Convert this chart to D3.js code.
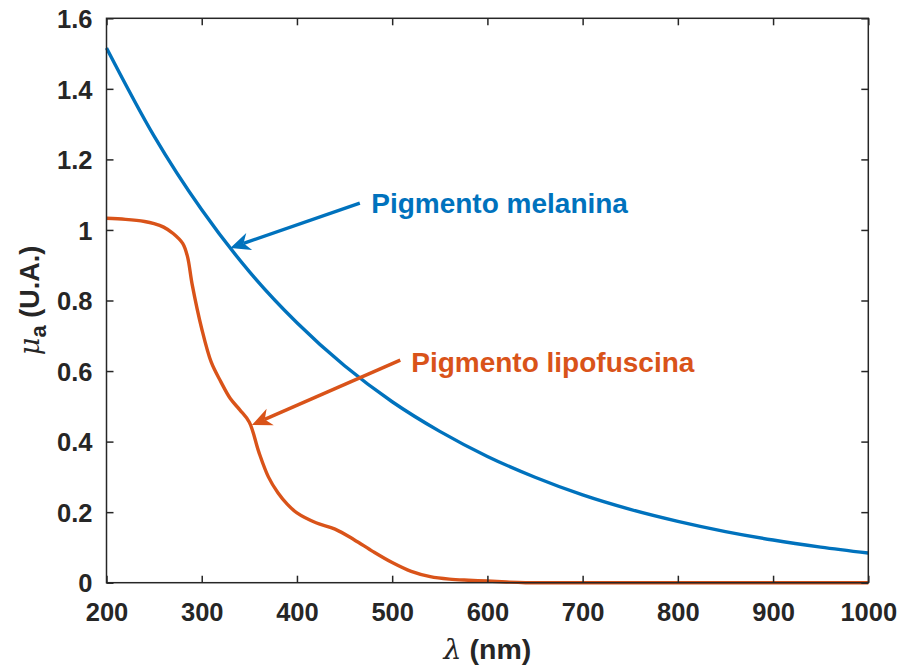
<!DOCTYPE html>
<html>
<head>
<meta charset="utf-8">
<script src="https://cdn.jsdelivr.net/npm/d3@7"></script>
<style>
  html, body { margin: 0; padding: 0; background: #fff; }
  svg { display: block; }
  text { font-family: "Liberation Sans", Arial, sans-serif; }
</style>
</head>
<body>
<svg id="chart" width="902" height="669"></svg>
<script>
// ---- data ----
const wavelengthsMel = [200, 250, 300, 350, 400, 450, 500, 550, 600, 650, 700, 750, 800, 850, 900, 950, 1000];
const melanina = [1.516, 1.266, 1.057, 0.882, 0.737, 0.615, 0.513, 0.429, 0.358, 0.299, 0.249, 0.208, 0.174, 0.145, 0.121, 0.101, 0.084];

const wavelengthsLip = [200, 220, 240, 250, 260, 270, 280, 285, 290, 300, 310, 320, 330, 340, 350, 360, 370, 380, 390, 400, 420, 440, 460, 480, 500, 520, 540, 560, 580, 600, 620, 640, 700, 800, 900, 1000];
const lipofuscina = [1.033, 1.03, 1.024, 1.018, 1.008, 0.99, 0.962, 0.925, 0.845, 0.72, 0.625, 0.57, 0.522, 0.49, 0.455, 0.37, 0.30, 0.255, 0.222, 0.198, 0.17, 0.152, 0.122, 0.088, 0.057, 0.032, 0.017, 0.01, 0.007, 0.005, 0.002, 0, 0, 0, 0, 0];

const xTicks = [200, 300, 400, 500, 600, 700, 800, 900, 1000];
const yTicks = [0, 0.2, 0.4, 0.6, 0.8, 1, 1.2, 1.4, 1.6];
const yTickLabels = ["0", "0.2", "0.4", "0.6", "0.8", "1", "1.2", "1.4", "1.6"];

const seriesNames = ["Pigmento melanina", "Pigmento lipofuscina"];
const seriesColors = ["#0072BD", "#D95319"];
// annotation arrows in data units: [start λ, start μa, tip λ, tip μa, text λ, text μa]
const annMel = [466, 1.076, 330, 0.949, 478, 1.048];
const annLip = [508.5, 0.631, 352.7, 0.447, 520, 0.598];

// ---- layout ----
const svg = d3.select("#chart");
const pLeft = 106.5, pRight = 868.3, pTop = 18.3, pBottom = 582.7;
const x = d3.scaleLinear().domain([200, 1000]).range([pLeft, pRight]);
const y = d3.scaleLinear().domain([0, 1.6]).range([pBottom, pTop]);
const axisColor = "#262626";

// curves
const lineMel = d3.line().x(d => x(d[0])).y(d => y(d[1])).curve(d3.curveMonotoneX);
const lineLip = d3.line().x(d => x(d[0])).y(d => y(d[1])).curve(d3.curveCatmullRom.alpha(0.5));
const melData = wavelengthsMel.map((w, i) => [w, melanina[i]]);
const lipData = wavelengthsLip.map((w, i) => [w, lipofuscina[i]]);

svg.append("path").datum(lipData).attr("d", lineLip)
  .attr("fill", "none").attr("stroke", seriesColors[1]).attr("stroke-width", 3.4).attr("stroke-linejoin", "round");
svg.append("path").datum(melData).attr("d", lineMel)
  .attr("fill", "none").attr("stroke", seriesColors[0]).attr("stroke-width", 3.4).attr("stroke-linejoin", "round");

// axes with inward ticks, box
const tickLen = 7;
svg.append("rect").attr("x", pLeft).attr("y", pTop).attr("width", pRight - pLeft).attr("height", pBottom - pTop)
  .attr("fill", "none").attr("stroke", axisColor).attr("stroke-width", 1.5);

const xAxisB = d3.axisBottom(x).tickValues(xTicks).tickSize(-tickLen).tickFormat(d3.format("d"));
const xAxisT = d3.axisTop(x).tickValues(xTicks).tickSize(-tickLen).tickFormat("");
const yAxisL = d3.axisLeft(y).tickValues(yTicks).tickSize(-tickLen).tickFormat((d, i) => yTickLabels[i]);
const yAxisR = d3.axisRight(y).tickValues(yTicks).tickSize(-tickLen).tickFormat("");

function styleAxis(sel) {
  sel.select(".domain").remove();
  sel.selectAll(".tick line").attr("stroke", axisColor).attr("stroke-width", 1.5);
  sel.selectAll(".tick text").attr("fill", axisColor)
    .style("font-family", "'Liberation Sans', Arial, sans-serif")
    .style("font-weight", "bold").style("font-size", "25.5px");
}
svg.append("g").attr("transform", `translate(0,${pBottom})`).call(xAxisB).call(styleAxis)
  .selectAll(".tick text").attr("y", 20).attr("dy", "0.71em");
svg.append("g").attr("transform", `translate(0,${pTop})`).call(xAxisT).call(styleAxis);
svg.append("g").attr("transform", `translate(${pLeft},0)`).call(yAxisL).call(styleAxis)
  .selectAll(".tick text").attr("x", -14).attr("dy", "0.36em");
svg.append("g").attr("transform", `translate(${pRight},0)`).call(yAxisR).call(styleAxis);

// axis titles
const xt = svg.append("text").attr("x", (pLeft + pRight) / 2).attr("y", 659)
  .attr("text-anchor", "middle").attr("fill", axisColor)
  .style("font-size", "28.5px").style("font-weight", "bold");
xt.append("tspan").style("font-family", "'DejaVu Serif', serif").style("font-style", "italic").style("font-weight", "normal").text("λ");
xt.append("tspan").text(" (nm)");

const yt = svg.append("text").attr("transform", `translate(39,${(pTop + pBottom) / 2}) rotate(-90)`)
  .attr("text-anchor", "middle").attr("fill", axisColor)
  .style("font-size", "27px").style("font-weight", "bold");
yt.append("tspan").style("font-family", "'DejaVu Serif', serif").style("font-style", "italic").style("font-weight", "normal").text("μ");
yt.append("tspan").attr("dy", 7).style("font-size", "22px").text("a");
yt.append("tspan").attr("dy", -7).text(" (U.A.)");

// annotations
function arrow(a, color, label) {
  const sx = x(a[0]), sy = y(a[1]), tx = x(a[2]), ty = y(a[3]);
  const dx = sx - tx, dy = sy - ty, len = Math.hypot(dx, dy);
  const ux = dx / len, uy = dy / len, nx = -uy, ny = ux;
  const L = 20, W = 9, notch = 6;
  svg.append("line").attr("x1", sx).attr("y1", sy).attr("x2", tx + ux * (L - notch)).attr("y2", ty + uy * (L - notch))
    .attr("stroke", color).attr("stroke-width", 3.4);
  const pts = [
    [tx, ty],
    [tx + ux * L + nx * W, ty + uy * L + ny * W],
    [tx + ux * (L - notch), ty + uy * (L - notch)],
    [tx + ux * L - nx * W, ty + uy * L - ny * W]
  ];
  svg.append("path").attr("d", "M" + pts.map(p => p.join(",")).join("L") + "Z").attr("fill", color);
  svg.append("text").attr("x", x(a[4])).attr("y", y(a[5])).attr("fill", color)
    .style("font-size", "28px").style("font-weight", "bold").text(label);
}
arrow(annMel, seriesColors[0], seriesNames[0]);
arrow(annLip, seriesColors[1], seriesNames[1]);
</script>
</body>
</html>
